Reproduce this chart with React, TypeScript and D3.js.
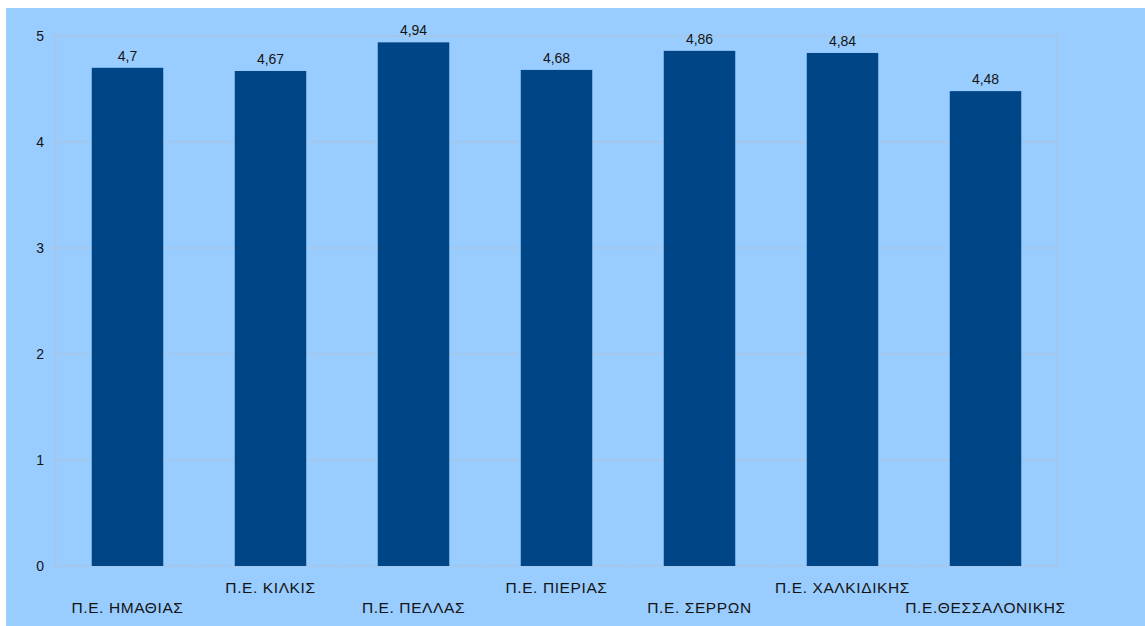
import React from "react";
import * as d3 from "d3";

const categories = [
  "Π.Ε. ΗΜΑΘΙΑΣ",
  "Π.Ε. ΚΙΛΚΙΣ",
  "Π.Ε. ΠΕΛΛΑΣ",
  "Π.Ε. ΠΙΕΡΙΑΣ",
  "Π.Ε. ΣΕΡΡΩΝ",
  "Π.Ε. ΧΑΛΚΙΔΙΚΗΣ",
  "Π.Ε.ΘΕΣΣΑΛΟΝΙΚΗΣ",
];
const values = [4.7, 4.67, 4.94, 4.68, 4.86, 4.84, 4.48];
const valueLabels = ["4,7", "4,67", "4,94", "4,68", "4,86", "4,84", "4,48"];
const yTicks = [0, 1, 2, 3, 4, 5];

export default function App() {
  const W = 1145, H = 626;
  const left = 56, right = 1057, top = 36, bottom = 566;
  const x = d3.scaleBand<string>().domain(categories).range([left, right]).paddingInner(0.5).paddingOuter(0.25);
  const xb = d3.scaleBand<string>().domain(categories).range([left, right]);
  const y = d3.scaleLinear().domain([0, 5]).range([bottom, top]);
  const font = "'Liberation Sans', Arial, sans-serif";
  const grid = "#adc3d9";
  return (
    <svg width={W} height={H} style={{ position: "absolute", left: 0, top: 0 }}>
      <rect x={0} y={0} width={W} height={H} fill="#ffffff" />
      <rect x={6} y={8} width={W - 6} height={H - 8} fill="#99ccff" />
      {yTicks.map((t) => (
        <g key={t}>
          <line x1={left - 4} x2={right} y1={y(t)} y2={y(t)} stroke={grid} strokeWidth={1} />
          <text x={44} y={y(t)} dy="0.36em" textAnchor="end" fontFamily={font} fontSize={14} fill="#141414">
            {t}
          </text>
        </g>
      ))}
      <line x1={left} x2={left} y1={top} y2={bottom} stroke={grid} />
      <line x1={right} x2={right} y1={top} y2={bottom} stroke={grid} />
      {categories.map((c, i) => (
        <line key={"t" + i} x1={xb(c)!} x2={xb(c)!} y1={bottom} y2={bottom + 4} stroke={grid} />
      ))}
      <line x1={right} x2={right} y1={bottom} y2={bottom + 4} stroke={grid} />
      {categories.map((c, i) => (
        <g key={c}>
          <rect x={x(c)!} y={y(values[i])} width={x.bandwidth()} height={bottom - y(values[i])} fill="#004586" />
          <text
            x={x(c)! + x.bandwidth() / 2}
            y={y(values[i]) - 7}
            textAnchor="middle"
            fontFamily={font}
            fontSize={14}
            fill="#141414"
          >
            {valueLabels[i]}
          </text>
          <text
            x={x(c)! + x.bandwidth() / 2}
            y={i % 2 === 0 ? 613 : 593}
            textAnchor="middle"
            fontFamily={font}
            fontSize={15.5}
            letterSpacing={0.6}
            fill="#141414"
          >
            {c}
          </text>
        </g>
      ))}
    </svg>
  );
}
